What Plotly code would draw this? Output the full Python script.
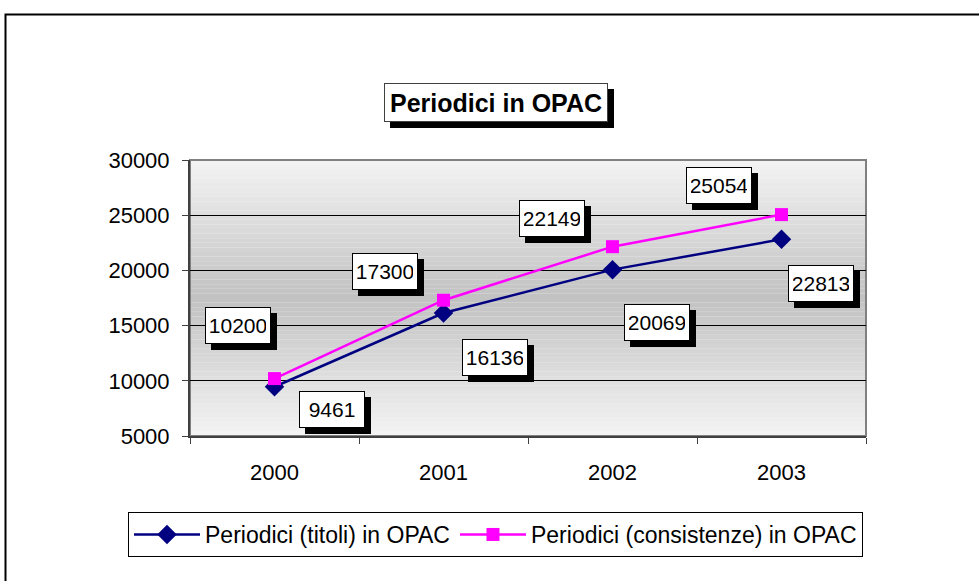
import plotly.graph_objects as go

years = ["2000", "2001", "2002", "2003"]
titoli = [9461, 16136, 20069, 22813]
consistenze = [10200, 17300, 22149, 25054]
name_titoli = "Periodici (titoli) in OPAC"
name_cons = "Periodici (consistenze) in OPAC"
title_text = "Periodici in OPAC"

# label offsets in pixels (dx right, dy down) relative to each point
off_titoli = [(57, 23), (51, 44), (44, 53), (39, 44)]
off_cons = [(-37, -53), (-59, -29), (-61, -28), (-63, -29)]

FONT = "Liberation Sans, Arial, sans-serif"
L, R, T, B = 190, 113, 160, 145
W, H = 979, 581

fig = go.Figure()
fig.add_trace(go.Scatter(x=years, y=titoli, name=name_titoli, mode="lines+markers",
                         line=dict(color="#000080", width=2.5),
                         marker=dict(symbol="diamond", size=15, color="#000080")))
fig.add_trace(go.Scatter(x=years, y=consistenze, name=name_cons, mode="lines+markers",
                         line=dict(color="#ff00ff", width=2.5),
                         marker=dict(symbol="square", size=13, color="#ff00ff")))

shapes = []
# gradient background bands
n = 60
for i in range(n):
    t = (i + 0.5) / n
    f = 1 - abs(2 * t - 1)
    c = int(244 - (244 - 194) * f)
    shapes.append(dict(type="rect", xref="paper", yref="paper", x0=0, x1=1,
                       y0=i / n, y1=(i + 1) / n, fillcolor=f"rgb({c},{c},{c})",
                       line=dict(width=0), layer="below"))
# plot border
shapes.append(dict(type="rect", xref="paper", yref="paper", x0=0, x1=1, y0=0, y1=1,
                   line=dict(color="#808080", width=2), layer="below"))
# outer chart border
pw, ph = W - L - R, H - T - B
shapes.append(dict(type="rect", xref="paper", yref="paper",
                   x0=(5.5 - L) / pw, x1=(990 - L) / pw,
                   y1=(H - B - 14.5) / ph, y0=(H - B - 595) / ph,
                   line=dict(color="black", width=2), layer="below"))

annotations = []
def label(xi, yv, text, dx, dy):
    for shadow in (True, False):
        annotations.append(dict(
            x=xi, y=yv, xref="x", yref="y", text=" " if shadow else text,
            showarrow=False, width=56, height=27,
            xshift=dx + (6 if shadow else 0), yshift=-dy - (6 if shadow else 0),
            font=dict(family=FONT, size=21, color="black"),
            bgcolor="black" if shadow else "white",
            bordercolor="black", borderwidth=1, borderpad=4))

for i, (yv, (dx, dy)) in enumerate(zip(consistenze, off_cons)):
    label(i, yv, str(yv), dx, dy)
for i, (yv, (dx, dy)) in enumerate(zip(titoli, off_titoli)):
    label(i, yv, str(yv), dx, dy)

# title box with shadow
tx, ty = (496 - L) / pw, (H - B - 83) / ph
for shadow in (True, False):
    annotations.append(dict(
        x=tx, y=ty, xref="paper", yref="paper",
        text=" " if shadow else f"<b>{title_text}</b>",
        showarrow=False, width=214, height=29,
        xshift=6 if shadow else 0, yshift=-6 if shadow else 0,
        font=dict(family=FONT, size=25, color="black"),
        bgcolor="black" if shadow else "white",
        bordercolor="#404040" if not shadow else "black", borderwidth=1, borderpad=4))

fig.update_layout(
    width=W, height=H,
    margin=dict(l=L, r=R, t=T, b=B, autoexpand=False),
    paper_bgcolor="white", plot_bgcolor="rgb(244,244,244)",
    font=dict(family=FONT, size=22, color="black"),
    shapes=shapes, annotations=annotations,
    legend=dict(orientation="h", x=(128 - L) / pw, y=(H - B - 534.5) / ph,
                xanchor="left", yanchor="middle",
                bordercolor="black", borderwidth=1, bgcolor="white",
                font=dict(family=FONT, size=23, color="black"),
                itemwidth=66, tracegroupgap=0),
    showlegend=True,
)
fig.update_xaxes(type="category", range=[-0.5, 3.5], showgrid=False,
                 ticks="outside", tickson="boundaries", ticklen=6, tickcolor="#404040",
                 showline=True, linecolor="#404040", linewidth=2,
                 ticklabelstandoff=16, tickfont=dict(size=22))
fig.update_yaxes(range=[5000, 30000], dtick=5000, tickformat="d", showgrid=True,
                 gridcolor="black", gridwidth=1, ticks="outside", ticklen=6,
                 tickcolor="#404040", showline=True, linecolor="#404040", linewidth=2,
                 zeroline=False, tickfont=dict(size=22), ticklabelstandoff=8)

fig.write_html("out.html", config={"displayModeBar": False},
               post_script="document.body.style.margin='0';document.body.style.padding='0';")
